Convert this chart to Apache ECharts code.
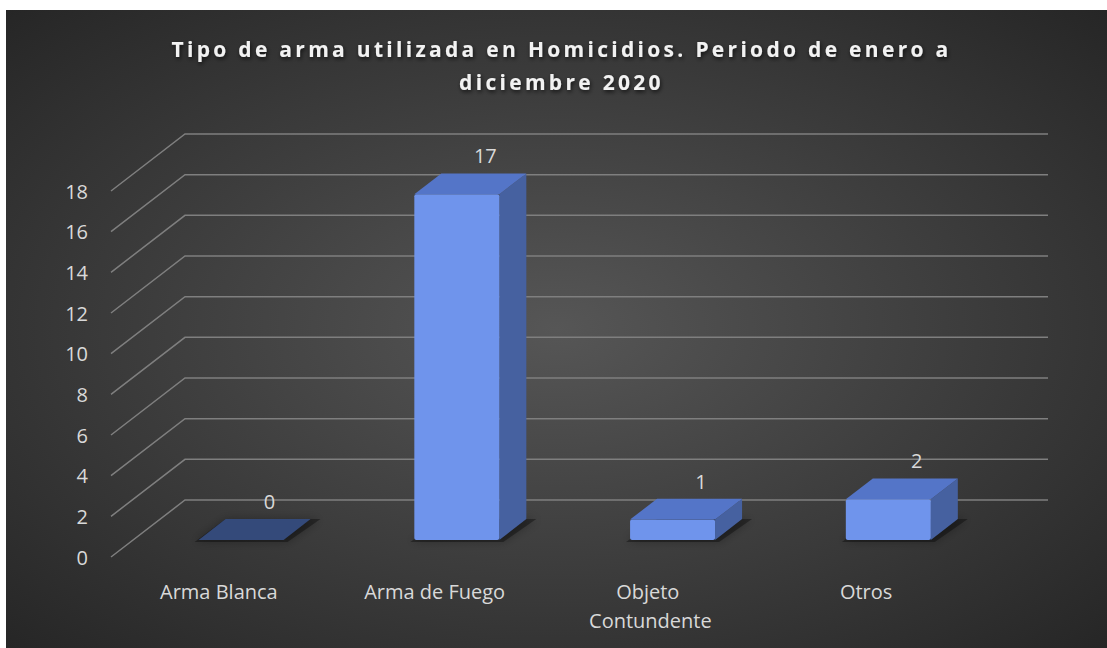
<!DOCTYPE html>
<html>
<head>
<meta charset="utf-8">
<script src="https://cdn.jsdelivr.net/npm/echarts@6/dist/echarts.min.js"></script>
<style>
  html, body { margin: 0; padding: 0; background: #fff; }
  #main { width: 1107px; height: 648px; }
</style>
</head>
<body>
<div id="main"></div>
<script>
// datos del grafico
var categories = ['Arma Blanca', 'Arma de Fuego', 'Objeto Contundente', 'Otros'];
var values = [0, 17, 1, 2];
var yTicks = [0, 2, 4, 6, 8, 10, 12, 14, 16, 18];

var myChart = echarts.init(document.getElementById('main'), null, { renderer: 'svg' });

// profundidad del efecto 3D (pared del fondo)
var DX = 74, DY = -57;

function renderGrid(params, api) {
    var cs = params.coordSys;
    var p = api.coord([0, api.value(1)]);
    var x0 = cs.x, x1 = cs.x + cs.width, y = p[1];
    return {
        type: 'polyline',
        shape: { points: [[x0, y], [x0 + DX, y + DY], [x1 + DX, y + DY]] },
        style: { stroke: '#7f7f7f', lineWidth: 1.5, fill: null },
        silent: true
    };
}

function renderBar(params, api) {
    var v = api.value(1);
    var base = api.coord([api.value(0), 0]);
    var top = api.coord([api.value(0), v]);
    var band = api.size([1, 0])[0];
    var w = band * 0.394;
    var f0 = 0.3, f1 = 0.665;
    var ddx = DX * (f1 - f0), ddy = DY * (f1 - f0);
    var xl = base[0] + DX * f0 - w / 2, xr = xl + w;
    var yb = base[1] + DY * f0, yt = top[1] + DY * f0;
    var children = [];
    children.push({
        type: 'polygon',
        shape: { points: [[xl - 4, yb + 2], [xr + 4, yb + 2], [xr + ddx + 10, yb + ddy], [xl + ddx, yb + ddy]] },
        style: { fill: 'rgba(0,0,0,0.35)', shadowBlur: 10, shadowColor: 'rgba(0,0,0,0.8)' }
    });
    if (v > 0) {
        children.push({
            type: 'polygon',
            shape: { points: [[xr, yt], [xr + ddx, yt + ddy], [xr + ddx, yb + ddy], [xr, yb]] },
            style: { fill: '#4661a0' }
        });
        children.push({
            type: 'rect',
            shape: { x: xl, y: yt, width: w, height: yb - yt, r: 2 },
            style: { fill: '#6f94ec' }
        });
    }
    children.push({
        type: 'polygon',
        shape: { points: [[xl, yt], [xl + ddx, yt + ddy], [xr + ddx, yt + ddy], [xr, yt]] },
        style: { fill: v > 0 ? '#5475c8' : '#344a7a' }
    });
    children.push({
        type: 'text',
        style: {
            text: String(v),
            x: (xl + xr) / 2 + ddx / 2 + 15,
            y: yt + ddy / 2 - 28,
            align: 'center',
            verticalAlign: 'middle',
            fill: '#d9d9d9',
            font: '20px "Open Sans"'
        }
    });
    return { type: 'group', children: children };
}

option = {
    animation: false,
    backgroundColor: '#ffffff',
    graphic: [{
        type: 'rect',
        left: 6, top: 10, z: -10,
        shape: { width: 1101, height: 638 },
        style: {
            fill: {
                type: 'radial', x: 0.5, y: 0.5, r: 0.75,
                colorStops: [{ offset: 0, color: '#565656' }, { offset: 1, color: '#232323' }]
            }
        },
        silent: true
    }],
    title: {
        text: 'Tipo de arma utilizada en Homicidios. Periodo de enero a\ndiciembre 2020',
        left: 'center',
        top: 27,
        textStyle: {
            color: '#f2f2f2',
            fontFamily: 'Open Sans',
            fontWeight: 'bold',
            fontSize: 21,
            lineHeight: 33,
            textShadowColor: 'rgba(0,0,0,0.7)',
            textShadowBlur: 4,
            textShadowOffsetX: 1,
            textShadowOffsetY: 2
        }
    },
    grid: { left: 111, right: 133, top: 191, bottom: 91 },
    xAxis: {
        type: 'category',
        data: categories,
        axisLine: { show: false },
        axisTick: { show: false },
        axisLabel: {
            interval: 0,
            color: '#d9d9d9',
            fontFamily: 'Open Sans',
            fontSize: 20,
            margin: 20,
            lineHeight: 29,
            width: 175,
            overflow: 'break'
        }
    },
    yAxis: {
        type: 'value',
        min: 0, max: 18, interval: 2,
        axisLine: { show: false },
        axisTick: { show: false },
        splitLine: { show: false },
        axisLabel: {
            color: '#d9d9d9',
            fontFamily: 'Open Sans',
            fontSize: 20,
            margin: 23
        }
    },
    series: [{
        type: 'custom',
        name: 'grid',
        renderItem: renderGrid,
        data: yTicks.map(function (t) { return [0, t]; }),
        z: 1,
        silent: true
    }, {
        type: 'custom',
        name: 'Homicidios',
        renderItem: renderBar,
        data: values.map(function (v, i) { return [i, v]; }),
        z: 2
    }]
};

myChart.setOption(option);

// espaciado de letras del titulo (como en el original)
function spaceTitle() {
    var texts = document.querySelectorAll('#main svg text');
    for (var i = 0; i < texts.length; i++) {
        var t = texts[i].textContent;
        if (t.indexOf('Tipo de arma') === 0 || t.indexOf('diciembre') === 0) {
            texts[i].setAttribute('letter-spacing', '3.3');
            texts[i].setAttribute('dx', '8');
        }
    }
}
myChart.on('finished', spaceTitle);
spaceTitle();
</script>
</body>
</html>
